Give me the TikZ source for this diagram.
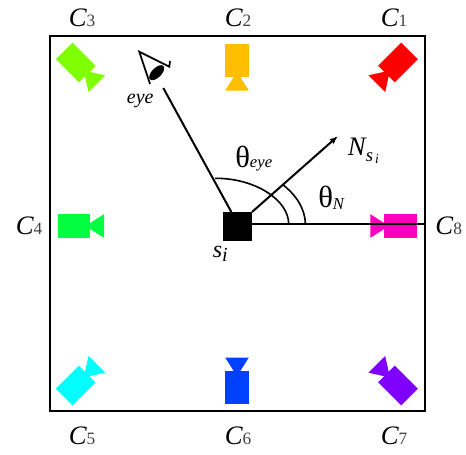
\documentclass[tikz,border=0pt]{standalone}
\usepackage{fontspec}
\setmainfont{Liberation Serif}
\usepackage{xcolor}
\usetikzlibrary{positioning, arrows.meta, calc}

\definecolor{camone}{HTML}{FF0000}
\definecolor{camtwo}{HTML}{FFBF00}
\definecolor{camthree}{HTML}{80FF00}
\definecolor{camfour}{HTML}{00FF40}
\definecolor{camfive}{HTML}{00FFFF}
\definecolor{camsix}{HTML}{0040FF}
\definecolor{camseven}{HTML}{8000FF}
\definecolor{cameight}{HTML}{FF00BF}

\newcommand{\camtext}[1]{{\fontsize{20}{20}\selectfont\itshape C}{\fontsize{13}{13}\selectfont\color{black!75}#1}}

\begin{document}
\begin{tikzpicture}[
    x=0.75pt,
    y=-0.75pt,
    >=Latex,
    line/.style={line width=1.5pt},
    arrow/.style={-{Latex[length=2.2mm,width=1.7mm]}, line width=1.5pt},
    angle/.style={line width=1.2pt},
    roomframe/.style={
        rectangle,
        draw=black,
        line width=1.5pt,
        outer sep=0pt,
        minimum width=281.25pt,
        minimum height=281.25pt
    },
    sample/.style={rectangle, fill=black, outer sep=0pt, minimum size=21.75pt},
    camlabel/.style={anchor=base, inner sep=0pt},
    mathlabel/.style={anchor=base west, inner sep=0pt},
    camera/.pic={
        \fill[pic actions] (-16.3,-11.8) rectangle (16.3,11.8);
        \fill[pic actions] (11.3,0) -- (30,-11.8) -- (30,11.8) -- cycle;
    }
]

\useasboundingbox (0,0) rectangle (466,454);

\node[roomframe] (room) at (237.5,223.5) {};

\pic[fill=camone, rotate=225] (cone) at (398,62.5) {camera};
\pic[fill=camtwo, rotate=270] (ctwo) at (237,60.5) {camera};
\pic[fill=camthree, rotate=315] (cthree) at (75.7,62.5) {camera};
\pic[fill=camfour] (cfour) at (74,226) {camera};
\pic[fill=camfive, rotate=45] (cfive) at (75.7,385.5) {camera};
\pic[fill=camsix, rotate=90] (csix) at (237,387.5) {camera};
\pic[fill=camseven, rotate=135] (cseven) at (398,385.5) {camera};
\pic[fill=cameight, rotate=180] (ceight) at (400.3,226) {camera};

\node[camlabel] (lone) at (394,26) {\camtext{1}};
\node[camlabel] (ltwo) at (238,26) {\camtext{2}};
\node[camlabel] (lthree) at (82,26) {\camtext{3}};
\node[camlabel] (lfour) at (29,234) {\camtext{4}};
\node[camlabel] (lfive) at (82,444) {\camtext{5}};
\node[camlabel] (lsix) at (238,444) {\camtext{6}};
\node[camlabel] (lseven) at (394,444) {\camtext{7}};
\node[camlabel] (leight) at (448.7,234) {\camtext{8}};

\node[sample] (si) at (237.5,226.5) {};
\node[mathlabel] (silabel) at (212.5,257.3) {\fontsize{18}{18}\selectfont\itshape s\raisebox{-3.3pt}{\fontsize{15}{15}\selectfont i}};

\coordinate (normaltip) at (338,136);
\coordinate (eyeend) at (163.3,88);

\draw[line] (si.10) -- (si.10 -| room.east);
\draw[arrow] (si.45) -- (normaltip);
\draw[line] (si.113) -- (eyeend);

\node[mathlabel] (normallabel) at (347.7,155.7) {\fontsize{20}{20}\selectfont\itshape N\raisebox{-4pt}{\fontsize{14}{14}\selectfont s\raisebox{-1.5pt}{\fontsize{10}{10}\selectfont\,i}}};
\node[mathlabel] (thetaeye) at (235,167) {\fontsize{23}{23}\selectfont θ{\fontsize{12.5}{12.5}\selectfont\itshape eye}};
\node[mathlabel] (thetan) at (318,207) {\fontsize{23}{23}\selectfont θ\raisebox{-1.5pt}{\fontsize{12.5}{12.5}\selectfont\itshape N}};
\node[mathlabel] (eyelabel) at (126.7,103) {\fontsize{15}{15}\selectfont\itshape eye};

\draw[angle] (288.7,224) .. controls (288.7,200) and (255,178) .. (215,178.3);
\draw[angle] (305.3,224) .. controls (305.3,208) and (295,194) .. (282.3,184.3);

\draw[line, line width=1.3pt] (150,84) -- (139.3,51.7) -- (169.3,66.7) -- (170,61);
\fill[rotate around={45:(156.7,72.7)}] (156.7,72.7) ellipse [x radius=9.5, y radius=4.8];

\end{tikzpicture}
\end{document}
